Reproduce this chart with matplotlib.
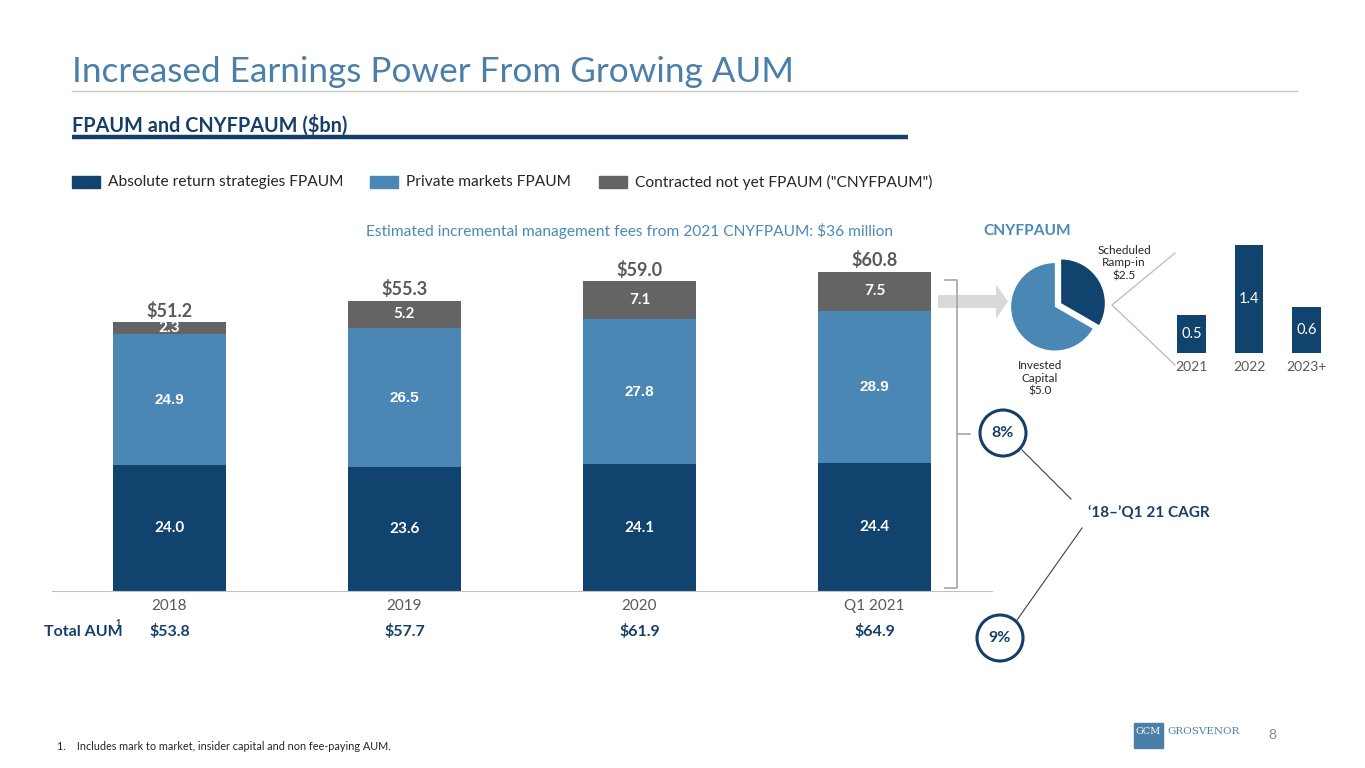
import matplotlib
matplotlib.use("Agg")
import matplotlib.pyplot as plt
from matplotlib.patches import Rectangle, Circle, FancyArrow

plt.rcParams['font.family'] = ['Lato', 'DejaVu Sans']

# data
years = ['2018', '2019', '2020', 'Q1 2021']
abs_return = [24.0, 23.6, 24.1, 24.4]
private_mkts = [24.9, 26.5, 27.8, 28.9]
cnyfpaum = [2.3, 5.2, 7.1, 7.5]
totals = [51.2, 55.3, 59.0, 60.8]
total_aum = [53.8, 57.7, 61.9, 64.9]

pie_labels = ['Scheduled\nRamp-in\n$2.5', 'Invested\nCapital\n$5.0']
pie_values = [2.5, 5.0]

ramp_years = ['2021', '2022', '2023+']
ramp_values = [0.5, 1.4, 0.6]

NAVY = '#10446f'
LIGHT = '#4a87b4'
GREY = '#646464'
TITLE_BLUE = '#4a7faa'
TEXT_GREY = '#595959'
DARK_NAVY = '#153f69'

W, H = 1365, 768
fig = plt.figure(figsize=(W / 100, H / 100), dpi=100)

def px_axes(x0, y_top, x1, y_bot):
    return fig.add_axes([x0 / W, 1 - y_bot / H, (x1 - x0) / W, (y_bot - y_top) / H])

# overlay in pixel coords for the slide decorations
ov = px_axes(0, 0, W, H)
ov.set_xlim(0, W)
ov.set_ylim(H, 0)
ov.axis('off')

ov.text(72, 82, 'Increased Earnings Power From Growing AUM', fontsize=25.3,
        color=TITLE_BLUE, va='baseline')
ov.plot([72, 1297], [91, 91], color='#c8c8c8', lw=1)
ov.text(72, 132, 'FPAUM and CNYFPAUM ($bn)', fontsize=14.3, fontweight='bold',
        color=DARK_NAVY, va='baseline')
ov.plot([72, 908], [137, 137], color=DARK_NAVY, lw=3.2, solid_capstyle='butt')

legend_items = [(72, NAVY, 'Absolute return strategies FPAUM'),
                (370, LIGHT, 'Private markets FPAUM'),
                (599, GREY, 'Contracted not yet FPAUM ("CNYFPAUM")')]
for x, c, lab in legend_items:
    ov.add_patch(Rectangle((x, 176), 28, 12, color=c))
    ov.text(x + 36, 182, lab, fontsize=11.2, color='#262626', va='center')

ov.text(893, 231, 'Estimated incremental management fees from 2021 CNYFPAUM: $36 million',
        fontsize=11.2, color='#4a8ab9', ha='right', va='center')
ov.text(983, 231, 'CNYFPAUM', fontsize=11.2, fontweight='bold', color='#4a8ab9', va='center')

# bracket and arrow
ov.plot([945, 957, 957, 945], [280, 280, 588, 588], color='#a6a6a6', lw=1.2)
ov.plot([957, 970], [434, 434], color='#a6a6a6', lw=1.2)
ov.add_patch(FancyArrow(938, 301.5, 58, 0, width=13, head_width=34, head_length=12,
                        color='#d9d9d9', lw=0, length_includes_head=False))

# CAGR circles
for cx, cy, lab in [(1003, 433, '8%'), (1000, 638, '9%')]:
    ov.add_patch(Circle((cx, cy), 23, fill=False, ec=DARK_NAVY, lw=2.2))
    ov.text(cx, cy, lab, fontsize=11.5, fontweight='bold', color=DARK_NAVY,
            ha='center', va='center')
ov.plot([1022, 1071], [450, 499], color='#404040', lw=0.8)
ov.plot([1082, 1017], [528, 620], color='#404040', lw=0.8)
ov.text(1088, 513, '\u201818\u2013\u2019Q1 21 CAGR', fontsize=11, fontweight='bold',
        color=DARK_NAVY, va='center')

# pie connector lines
ov.plot([1175, 1112, 1175], [253, 305, 365], color='#bfbfbf', lw=1)

# footer
ov.text(57, 746, '1.    Includes mark to market, insider capital and non fee-paying AUM.',
        fontsize=7.8, color='#262626', va='center')
ov.add_patch(Rectangle((1134, 723), 29, 25, color='#4a7faa'))
ov.text(1148.5, 732, 'GCM', fontsize=7, color='white', family='DejaVu Serif',
        ha='center', va='center')
ov.text(1167, 732, 'GROSVENOR', fontsize=7.5, color='#4a7faa', family='DejaVu Serif',
        va='center')
ov.text(1272, 735, '8', fontsize=10, color='#8c8c8c', ha='center', va='center')

# main stacked bars
ax = px_axes(52, 591 - 70 * 5.25, 992, 591)
ax.set_facecolor('none')
x = range(len(years))
bw = 0.48
bottom2 = [a + p for a, p in zip(abs_return, private_mkts)]
ax.bar(x, abs_return, bw, color=NAVY)
ax.bar(x, private_mkts, bw, bottom=abs_return, color=LIGHT)
ax.bar(x, cnyfpaum, bw, bottom=bottom2, color=GREY)
ax.set_xlim(-0.5, 3.5)
ax.set_ylim(0, 70)
for i in x:
    ax.text(i, abs_return[i] / 2, f'{abs_return[i]:.1f}', color='white', fontsize=11,
            fontweight='bold', ha='center', va='center')
    ax.text(i, abs_return[i] + private_mkts[i] / 2, f'{private_mkts[i]:.1f}', color='white',
            fontsize=11, fontweight='bold', family='Liberation Sans', ha='center', va='center')
    ax.text(i, bottom2[i] + cnyfpaum[i] / 2, f'{cnyfpaum[i]:.1f}', color='white',
            fontsize=11, fontweight='bold', ha='center', va='center')
    ax.annotate(f'${totals[i]:.1f}', (i, totals[i]), xytext=(0, 4), textcoords='offset points',
                fontsize=13, fontweight='bold', color=TEXT_GREY, ha='center', va='baseline')
    ax.text(i, -7.8, f'${total_aum[i]:.1f}', fontsize=11.5, fontweight='bold', color=DARK_NAVY,
            ha='center', va='center', clip_on=False)
ov.text(44, 632, 'Total AUM', fontsize=11.5, fontweight='bold', color=DARK_NAVY,
        ha='left', va='center')
ov.text(115, 623, '1', fontsize=6.5, fontweight='bold', color=DARK_NAVY, ha='left', va='center')
ax.set_xticks(list(x))
ax.set_xticklabels(years)
ax.tick_params(length=0, pad=6, labelsize=11, labelcolor=TEXT_GREY)
ax.set_yticks([])
for s in ['top', 'right', 'left']:
    ax.spines[s].set_visible(False)
ax.spines['bottom'].set_color('#bfbfbf')

# CNYFPAUM pie
pax = px_axes(1058 - 52, 305 - 52, 1058 + 52, 305 + 52)
pax.pie(pie_values, colors=[NAVY, LIGHT], startangle=90, counterclock=False,
        explode=[0.07, 0.07], radius=0.84)
pax.set_xlim(-1, 1)
pax.set_ylim(-1, 1)
pax.set_aspect('equal')
ov.text(1124, 263, pie_labels[0], fontsize=8.5, color='#262626', ha='center', va='center',
        linespacing=1.2)
ov.text(1040, 378, pie_labels[1], fontsize=8.5, color='#262626', ha='center', va='center',
        linespacing=1.2)

# scheduled ramp-in bars
bax = px_axes(1163, 353 - 1.6 * 77, 1335, 353)
bax.set_facecolor('none')
bax.bar(range(3), ramp_values, 0.5, color=NAVY)
bax.set_xlim(-0.5, 2.5)
bax.set_ylim(0, 1.6)
for i, v in enumerate(ramp_values):
    bax.text(i, v / 2, f'{v}', color='white', fontsize=10.5, ha='center', va='center')
bax.set_xticks(range(3))
bax.set_xticklabels(ramp_years)
bax.tick_params(length=0, pad=6, labelsize=10, labelcolor=TEXT_GREY)
bax.set_yticks([])
for s in bax.spines.values():
    s.set_visible(False)

fig.savefig('out.png', dpi=100)
